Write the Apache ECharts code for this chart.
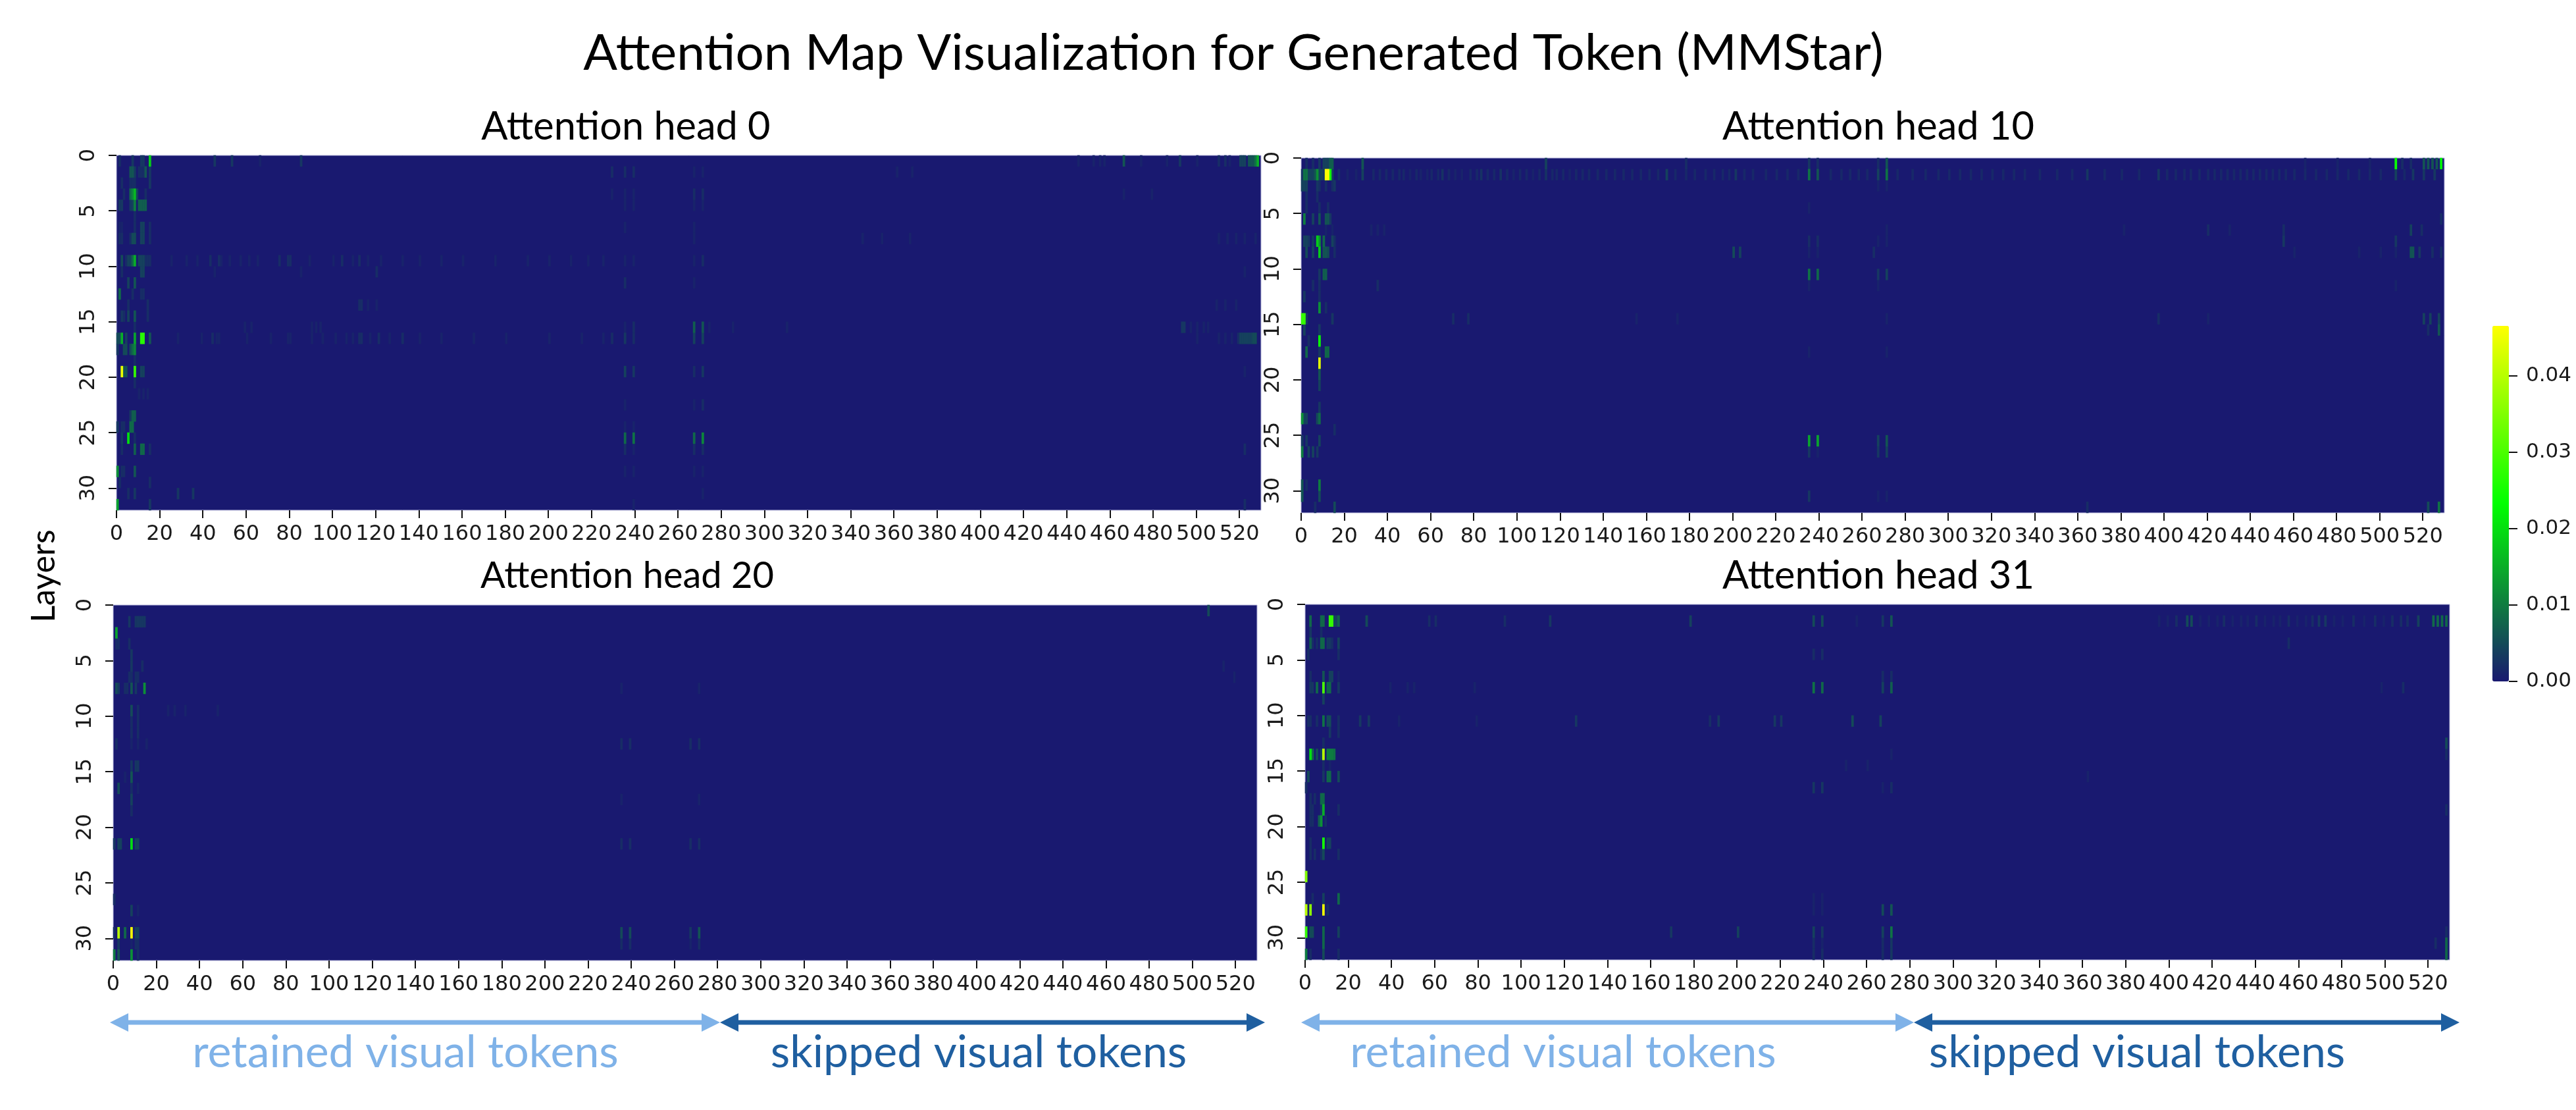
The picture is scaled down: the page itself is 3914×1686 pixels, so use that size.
<!DOCTYPE html>
<html>
<head>
<meta charset="utf-8" />
<title>Attention Map Visualization for Generated Token (MMStar)</title>
<style>
  html, body { margin: 0; padding: 0; background: #fff; }
  #chart { width: 3914px; height: 1686px; }
</style>
<script src="https://cdn.jsdelivr.net/npm/echarts@6/dist/echarts.min.js"></script>
</head>
<body>
<div id="chart"></div>
<script>
const chartTitle = "Attention Map Visualization for Generated Token (MMStar)";
const headTitles = ["Attention head 0", "Attention head 10", "Attention head 20", "Attention head 31"];
const tokenCount = 530;
const layerCount = 32;
const xTicks = [0, 20, 40, 60, 80, 100, 120, 140, 160, 180, 200, 220, 240, 260, 280, 300, 320, 340, 360, 380, 400, 420, 440, 460, 480, 500, 520];
const yTicks = [0, 5, 10, 15, 20, 25, 30];
const colorbarTicks = [0, 0.01, 0.02, 0.03, 0.04];
const colorMax = 0.0465;

// cells: [token, layer, value]. anything not listed is ~0
const head0 = [
  [1,0,.002],[7,0,.003],[11,0,.003],[12,0,.003],[15,0,.018],[45,0,.003],[53,0,.003],[66,0,.001],[85,0,.003],[445,0,.001],[452,0,.001],[455,0,.001],[457,0,.001],[466,0,.006],[474,0,.001],[486,0,.001],[492,0,.003],[500,0,.001],[510,0,.002],[513,0,.002],[515,0,.001],[520,0,.004],[521,0,.004],[522,0,.004],[524,0,.006],[525,0,.006],[526,0,.006],[527,0,.009],[528,0,.015],
  [6,1,.006],[7,1,.006],[8,1,.003],[10,1,.002],[11,1,.002],[12,1,.002],[13,1,.006],[15,1,.003],[229,1,.002],[235,1,.002],[239,1,.002],[267,1,.001],[271,1,.001],[361,1,.001],[368,1,.001],
  [2,2,.002],[6,2,.002],[7,2,.002],[8,2,.002],[15,2,.003],
  [3,3,.002],[6,3,.008],[7,3,.011],[8,3,.016],[9,3,.004],[13,3,.002],[229,3,.001],[235,3,.001],[239,3,.001],[267,3,.002],[271,3,.002],[466,3,.001],[479,3,.001],
  [1,4,.003],[2,4,.003],[6,4,.003],[7,4,.004],[8,4,.01],[10,4,.007],[11,4,.007],[12,4,.007],[13,4,.007],[235,4,.001],[239,4,.001],[267,4,.001],[271,4,.001],
  [8,5,.002],[1,6,.001],[2,6,.001],[8,6,.002],[11,6,.004],[12,6,.004],[15,6,.002],[235,6,.001],[267,6,.001],
  [1,7,.002],[2,7,.002],[6,7,.002],[7,7,.005],[8,7,.005],[11,7,.004],[12,7,.004],[15,7,.002],[267,7,.001],[345,7,.001],[354,7,.001],[367,7,.001],[510,7,.001],[514,7,.001],[518,7,.001],[522,7,.001],[527,7,.001],
  [2,9,.005],[4,9,.002],[5,9,.004],[6,9,.004],[7,9,.008],[8,9,.015],[10,9,.004],[11,9,.004],[12,9,.004],[13,9,.002],[14,9,.002],[15,9,.002],[25,9,.001],[32,9,.001],[37,9,.001],[43,9,.002],[47,9,.002],[48,9,.001],[52,9,.001],[57,9,.001],[61,9,.001],[65,9,.001],[75,9,.002],[79,9,.002],[80,9,.002],[89,9,.001],[100,9,.001],[104,9,.002],[109,9,.001],[112,9,.002],[116,9,.001],[122,9,.001],[132,9,.001],[140,9,.001],[150,9,.001],[160,9,.001],[175,9,.001],[190,9,.001],[200,9,.001],[210,9,.001],[218,9,.001],[225,9,.001],[235,9,.001],[239,9,.001],[267,9,.001],[271,9,.002],
  [2,10,.002],[11,10,.004],[12,10,.004],[45,10,.001],[85,10,.001],[120,10,.002],[522,10,.001],
  [5,11,.004],[8,11,.006],[235,11,.002],[267,11,.001],
  [1,12,.008],[7,12,.002],[11,12,.002],[12,12,.002],
  [5,13,.002],[14,13,.002],[112,13,.002],[113,13,.002],[116,13,.001],[120,13,.001],[509,13,.001],[513,13,.001],[518,13,.001],
  [2,14,.003],[3,14,.002],[5,14,.004],[8,14,.006],[14,14,.002],
  [8,15,.002],[59,15,.001],[62,15,.001],[90,15,.001],[92,15,.001],[94,15,.001],[235,15,.001],[239,15,.002],[267,15,.007],[271,15,.006],[274,15,.001],[285,15,.001],[310,15,.001],[493,15,.003],[494,15,.003],[497,15,.001],[500,15,.001],[503,15,.001],[505,15,.001],
  [0,16,.005],[1,16,.005],[2,16,.015],[4,16,.004],[8,16,.014],[11,16,.027],[12,16,.027],[15,16,.006],[28,16,.001],[39,16,.001],[44,16,.002],[46,16,.001],[47,16,.001],[60,16,.001],[71,16,.001],[79,16,.001],[80,16,.001],[90,16,.001],[95,16,.001],[101,16,.001],[106,16,.001],[109,16,.001],[112,16,.002],[113,16,.002],[117,16,.001],[121,16,.002],[126,16,.001],[132,16,.002],[140,16,.001],[150,16,.001],[165,16,.001],[180,16,.001],[200,16,.001],[215,16,.001],[225,16,.001],[229,16,.002],[235,16,.003],[239,16,.002],[267,16,.004],[271,16,.004],[500,16,.001],[510,16,.001],[513,16,.001],[516,16,.001],[519,16,.002],[520,16,.004],[521,16,.004],[522,16,.004],[523,16,.004],[524,16,.004],[525,16,.004],[526,16,.005],[527,16,.005],
  [0,17,.003],[3,17,.005],[4,17,.005],[6,17,.005],[7,17,.008],[8,17,.011],
  [8,18,.002],
  [2,19,.0445],[3,19,.006],[4,19,.006],[8,19,.028],[11,19,.004],[12,19,.004],[235,19,.004],[239,19,.003],[267,19,.002],[271,19,.003],[522,19,.001],
  [8,20,.002],[10,21,.001],[12,21,.001],[14,21,.001],
  [235,22,.001],[267,22,.001],[271,22,.002],
  [6,23,.003],[7,23,.007],[8,23,.007],
  [0,24,.003],[2,24,.002],[3,24,.002],[6,24,.008],[7,24,.008],[235,24,.001],[239,24,.001],
  [2,25,.003],[5,25,.02],[8,25,.002],[235,25,.008],[239,25,.009],[267,25,.008],[271,25,.011],
  [2,26,.002],[8,26,.007],[11,26,.008],[12,26,.008],[15,26,.002],[235,26,.002],[239,26,.001],[267,26,.002],[271,26,.002],[522,26,.002],
  [0,28,.012],[2,28,.002],[3,28,.002],[8,28,.006],[235,28,.001],[239,28,.001],[267,28,.001],[271,28,.001],
  [1,29,.002],[15,29,.002],
  [5,30,.002],[8,30,.003],[28,30,.003],[35,30,.003],[271,30,.001],
  [0,31,.014],[15,31,.003],[239,31,.001],[522,31,.002]
];
const head10 = [
  [2,0,.002],[5,0,.002],[8,0,.003],[10,0,.004],[11,0,.004],[12,0,.004],[13,0,.007],[14,0,.007],[28,0,.006],[113,0,.004],[178,0,.002],[235,0,.003],[239,0,.002],[267,0,.002],[271,0,.006],[465,0,.001],[480,0,.001],[495,0,.001],[507,0,.024],[510,0,.002],[514,0,.002],[520,0,.006],[522,0,.006],[524,0,.006],[526,0,.006],[528,0,.022],
  [0,1,.003],[1,1,.009],[2,1,.009],[3,1,.004],[4,1,.004],[5,1,.004],[6,1,.006],[7,1,.012],[8,1,.004],[9,1,.004],[10,1,.003],[11,1,.0465],[12,1,.0465],[13,1,.025],[14,1,.004],[17,1,.002],[21,1,.001],[25,1,.001],[28,1,.004],[33,1,.0015],[36,1,.0015],[39,1,.0015],[42,1,.0015],[45,1,.0015],[47,1,.0015],[50,1,.001],[53,1,.0015],[55,1,.001],[58,1,.001],[60,1,.0015],[63,1,.0015],[65,1,.0025],[68,1,.0015],[71,1,.001],[74,1,.001],[78,1,.0015],[81,1,.0015],[83,1,.0025],[86,1,.0015],[89,1,.0015],[92,1,.0025],[95,1,.0015],[98,1,.001],[101,1,.0015],[104,1,.0015],[107,1,.001],[110,1,.0015],[113,1,.0025],[116,1,.0015],[118,1,.0015],[121,1,.0015],[124,1,.001],[127,1,.0015],[130,1,.0015],[133,1,.0015],[137,1,.0015],[141,1,.0015],[145,1,.0015],[149,1,.0015],[153,1,.0015],[157,1,.0015],[161,1,.0015],[165,1,.0015],[169,1,.004],[173,1,.0015],[178,1,.0015],[182,1,.0015],[187,1,.0015],[191,1,.0015],[195,1,.0015],[198,1,.0015],[201,1,.003],[205,1,.0015],[209,1,.0015],[215,1,.0015],[220,1,.0015],[225,1,.0015],[230,1,.0015],[235,1,.009],[239,1,.006],[245,1,.0015],[250,1,.0015],[254,1,.0015],[258,1,.0015],[262,1,.0015],[267,1,.004],[271,1,.009],[276,1,.0015],[283,1,.0015],[289,1,.0015],[295,1,.0015],[300,1,.0015],[305,1,.0015],[310,1,.0015],[315,1,.0015],[320,1,.0015],[325,1,.0015],[330,1,.0015],[335,1,.0015],[342,1,.0015],[350,1,.0015],[357,1,.0015],[364,1,.003],[372,1,.0015],[380,1,.0015],[388,1,.0015],[397,1,.003],[401,1,.0015],[405,1,.0015],[409,1,.0015],[412,1,.0015],[416,1,.0015],[420,1,.0015],[423,1,.0015],[426,1,.0015],[429,1,.0015],[432,1,.0015],[435,1,.0015],[438,1,.0015],[441,1,.0015],[444,1,.0015],[447,1,.0015],[450,1,.0015],[453,1,.0015],[456,1,.0015],[460,1,.0015],[465,1,.0015],[470,1,.0015],[475,1,.0015],[480,1,.0015],[485,1,.0015],[490,1,.0015],[495,1,.0015],[500,1,.0015],[507,1,.004],[511,1,.0015],[515,1,.003],[520,1,.003],[525,1,.003],
  [0,2,.004],[1,2,.004],[2,2,.004],[7,2,.003],[8,2,.002],[11,2,.002],[14,2,.002],[15,2,.003],[267,2,.001],[271,2,.001],
  [2,3,.002],[7,3,.002],[2,4,.002],[8,4,.002],[12,4,.002],[235,4,.001],
  [1,5,.01],[5,5,.004],[8,5,.006],[11,5,.006],[12,5,.006],[13,5,.003],[528,5,.002],
  [11,6,.001],[14,6,.001],[32,6,.001],[35,6,.001],[38,6,.001],[271,6,.001],[381,6,.001],[420,6,.002],[430,6,.001],[455,6,.002],[514,6,.004],[519,6,.002],
  [1,7,.004],[2,7,.004],[3,7,.003],[5,7,.003],[7,7,.018],[8,7,.012],[10,7,.008],[14,7,.004],[15,7,.002],[235,7,.002],[239,7,.002],[267,7,.001],[271,7,.001],[455,7,.003],[507,7,.003],
  [2,8,.005],[5,8,.004],[8,8,.018],[10,8,.006],[11,8,.006],[12,8,.005],[15,8,.002],[200,8,.005],[203,8,.004],[235,8,.001],[239,8,.001],[265,8,.002],[460,8,.001],[490,8,.001],[500,8,.001],[507,8,.001],[514,8,.006],[515,8,.006],[518,8,.003],[524,8,.002],[528,8,.002],
  [8,10,.003],[10,10,.007],[11,10,.007],[235,10,.009],[239,10,.008],[267,10,.003],[271,10,.004],
  [5,11,.002],[8,11,.002],[35,11,.002],[235,11,.001],[267,11,.001],[507,11,.001],
  [1,12,.003],[8,12,.002],
  [8,13,.012],[11,13,.002],
  [0,14,.028],[1,14,.028],[2,14,.003],[14,14,.003],[70,14,.002],[77,14,.002],[155,14,.001],[174,14,.001],[271,14,.001],[397,14,.002],[420,14,.001],[520,14,.004],[523,14,.004],[527,14,.004],
  [1,15,.004],[8,15,.003],[522,15,.002],[527,15,.006],
  [3,16,.002],[8,16,.024],
  [2,17,.008],[8,17,.003],[11,17,.008],[12,17,.008],[235,17,.001],[271,17,.001],
  [8,18,.044],[8,19,.006],[8,20,.004],[8,22,.003],
  [0,23,.012],[1,23,.004],[2,23,.004],[7,23,.005],[8,23,.008],[15,24,.002],
  [0,25,.003],[2,25,.003],[8,25,.004],[235,25,.014],[239,25,.014],[267,25,.004],[271,25,.006],
  [0,26,.01],[3,26,.004],[5,26,.004],[7,26,.003],[235,26,.003],[239,26,.001],[267,26,.003],[271,26,.004],
  [0,29,.006],[2,29,.002],[8,29,.01],
  [0,30,.006],[8,30,.005],[235,30,.003],[267,30,.001],[271,30,.001],
  [6,31,.002],[15,31,.005],[364,31,.002],[522,31,.005],[527,31,.009]
];
const head20 = [
  [507,0,.005],
  [7,1,.003],[10,1,.003],[11,1,.003],[12,1,.003],[13,1,.003],[14,1,.003],
  [1,2,.014],[1,3,.002],[2,3,.002],[7,3,.002],
  [8,4,.003],
  [8,5,.003],[13,5,.002],[514,5,.001],
  [7,6,.002],[8,6,.002],[10,6,.002],[11,6,.002],[519,6,.001],
  [1,7,.005],[2,7,.003],[5,7,.002],[6,7,.002],[8,7,.006],[10,7,.003],[14,7,.012],[235,7,.001],[271,7,.001],
  [8,9,.005],[11,9,.002],[25,9,.001],[28,9,.001],[33,9,.001],[48,9,.001],
  [8,10,.002],[11,10,.002],[8,11,.002],[11,11,.002],
  [1,12,.002],[8,12,.001],[11,12,.001],[15,12,.001],[235,12,.002],[239,12,.002],[267,12,.002],[271,12,.002],
  [8,14,.003],[10,14,.003],[11,14,.003],[5,15,.001],[8,15,.006],
  [2,16,.005],[8,16,.002],[11,16,.001],[8,17,.004],[235,17,.001],[271,17,.001],[8,18,.002],
  [0,21,.003],[2,21,.004],[3,21,.004],[8,21,.02],[10,21,.004],[11,21,.004],[235,21,.002],[239,21,.002],[267,21,.002],[271,21,.002],
  [0,26,.002],
  [8,27,.004],[11,27,.001],
  [0,29,.002],[2,29,.04],[5,29,.008],[8,29,.046],[10,29,.004],[11,29,.004],[235,29,.005],[239,29,.005],[267,29,.003],[271,29,.006],
  [2,30,.003],[8,30,.001],[10,30,.002],[11,30,.002],[235,30,.002],[239,30,.002],[267,30,.001],[271,30,.002],
  [0,31,.01],[2,31,.006],[8,31,.012],[11,31,.002]
];
const head31 = [
  [2,1,.008],[7,1,.008],[8,1,.008],[11,1,.028],[12,1,.028],[13,1,.004],[14,1,.004],[15,1,.007],[28,1,.005],[57,1,.002],[60,1,.002],[92,1,.002],[113,1,.003],[178,1,.004],[235,1,.005],[239,1,.005],[255,1,.001],[267,1,.003],[271,1,.006],[395,1,.001],[399,1,.001],[403,1,.002],[408,1,.005],[410,1,.005],[414,1,.001],[418,1,.001],[422,1,.001],[425,1,.002],[429,1,.001],[433,1,.001],[436,1,.001],[440,1,.002],[444,1,.001],[448,1,.001],[451,1,.001],[455,1,.002],[459,1,.001],[463,1,.001],[466,1,.002],[469,1,.003],[472,1,.003],[476,1,.001],[480,1,.001],[485,1,.002],[490,1,.001],[495,1,.002],[499,1,.001],[503,1,.002],[507,1,.002],[510,1,.002],[515,1,.004],[522,1,.008],[524,1,.008],[526,1,.008],[528,1,.008],
  [2,2,.003],[7,2,.002],
  [2,3,.007],[3,3,.002],[5,3,.002],[7,3,.008],[8,3,.008],[10,3,.003],[11,3,.003],[12,3,.002],[15,3,.004],[455,3,.002],
  [1,4,.002],[15,4,.002],[235,4,.002],[239,4,.002],
  [2,6,.002],[8,6,.006],[11,6,.004],[12,6,.004],[15,6,.001],[267,6,.002],[271,6,.002],
  [2,7,.003],[3,7,.003],[5,7,.008],[8,7,.03],[10,7,.008],[11,7,.008],[15,7,.003],[39,7,.001],[47,7,.001],[50,7,.001],[78,7,.001],[235,7,.009],[239,7,.008],[267,7,.004],[271,7,.007],[498,7,.001],[508,7,.002],
  [8,8,.004],
  [1,10,.002],[2,10,.002],[5,10,.002],[8,10,.009],[10,10,.005],[11,10,.005],[15,10,.002],[25,10,.003],[29,10,.003],[43,10,.001],[79,10,.001],[125,10,.003],[187,10,.002],[191,10,.003],[217,10,.003],[220,10,.003],[253,10,.005],[266,10,.004],
  [11,11,.003],[15,11,.002],
  [8,12,.002],[528,12,.005],
  [2,13,.02],[3,13,.008],[5,13,.005],[7,13,.004],[8,13,.04],[10,13,.01],[11,13,.01],[12,13,.01],[13,13,.009],[271,13,.001],[528,13,.002],
  [8,14,.002],[11,14,.001],[250,14,.001],[260,14,.001],
  [1,15,.005],[8,15,.003],[10,15,.008],[11,15,.008],[15,15,.005],[362,15,.001],
  [0,16,.002],[235,16,.003],[239,16,.003],[267,16,.001],[271,16,.002],
  [2,17,.002],[4,17,.002],[7,17,.008],[8,17,.008],
  [2,18,.002],[3,18,.002],[7,18,.003],[8,18,.015],[15,18,.002],[528,18,.002],
  [2,19,.002],[3,19,.002],[6,19,.007],[7,19,.012],[9,19,.002],
  [2,21,.002],[8,21,.025],[10,21,.004],[11,21,.004],
  [2,22,.002],[4,22,.002],[7,22,.002],[8,22,.005],[15,22,.002],
  [0,24,.035],
  [3,26,.002],[8,26,.004],[15,26,.008],[235,26,.001],[239,26,.001],
  [0,27,.04],[2,27,.036],[8,27,.045],[10,27,.002],[235,27,.001],[239,27,.001],[267,27,.005],[271,27,.006],
  [0,29,.028],[2,29,.005],[3,29,.005],[8,29,.008],[15,29,.004],[169,29,.003],[200,29,.004],[235,29,.004],[239,29,.003],[267,29,.004],[271,29,.009],[528,29,.002],
  [8,30,.008],[235,30,.002],[239,30,.001],[267,30,.002],[271,30,.003],[523,30,.002],[528,30,.008],
  [0,31,.01],[2,31,.002],[8,31,.005],[15,31,.002],[235,31,.002],[239,31,.002],[267,31,.002],[271,31,.003],[528,31,.008]
];
const headCells = [head0, head10, head20, head31];

// panel boxes in page pixels
const panels = [
  { left: 177, top: 236, width: 1739, height: 539 },
  { left: 1977, top: 240, width: 1737, height: 539 },
  { left: 172, top: 919, width: 1738, height: 540 },
  { left: 1983, top: 918, width: 1739, height: 540 },
];
const colorbar = { left: 3787, top: 495, width: 25, height: 540 };

// head 0 and the right hand titles are a bit larger in the source
const headTitleLayout = [
  { center: 946, top: 158, size: 59.5 },
  { center: 2849, top: 158, size: 59.5 },
  { center: 948, top: 842, size: 56 },
  { center: 2849, top: 840, size: 59.5 },
];

const tokenLabels = Array.from({ length: tokenCount }, (_, i) => String(i));
const layerLabels = Array.from({ length: layerCount }, (_, i) => String(i));

const tickFont = { fontFamily: "DejaVu Sans", fontSize: 32, color: "#1a1a1a" };
const titleFont = "Lato";

const grid = [];
const xAxis = [];
const yAxis = [];
const series = [];

panels.forEach((box, i) => {
  grid.push({
    ...box,
    show: true,
    backgroundColor: "#191970",
    borderColor: "#b9b9dc",
    borderWidth: 1,
  });
  // band axes carry the cells, value axes below only carry ticks and labels
  xAxis.push({ gridIndex: i, type: "category", data: tokenLabels, show: false });
  xAxis.push({
    gridIndex: i,
    type: "value",
    position: "bottom",
    min: 0,
    max: tokenCount,
    splitLine: { show: false },
    axisLine: { show: false, onZero: false },
    axisTick: { show: true, length: 12, customValues: xTicks, lineStyle: { color: "#111", width: 2 } },
    axisLabel: { customValues: xTicks, margin: 21, hideOverlap: false, ...tickFont },
  });
  yAxis.push({ gridIndex: i, type: "category", data: layerLabels, inverse: true, show: false });
  yAxis.push({
    gridIndex: i,
    type: "value",
    position: "left",
    inverse: true,
    min: 0,
    max: layerCount,
    splitLine: { show: false },
    axisLine: { show: false, onZero: false },
    axisTick: { show: true, length: 12, customValues: yTicks, lineStyle: { color: "#111", width: 2 } },
    axisLabel: { customValues: yTicks, margin: 26, rotate: 90, ...tickFont },
  });
  series.push({
    type: "heatmap",
    xAxisIndex: i * 2,
    yAxisIndex: i * 2,
    progressive: 0,
    // brightest last so the rounded up cell widths don't hide them
    data: headCells[i].slice().sort((a, b) => a[2] - b[2]),
    emphasis: { disabled: true },
  });
});

// colorbar ticks
grid.push({ ...colorbar });
xAxis.push({ gridIndex: 4, type: "category", data: [""], show: false });
yAxis.push({
  gridIndex: 4,
  type: "value",
  position: "right",
  min: 0,
  max: colorMax,
  splitLine: { show: false },
  axisLine: { show: false },
  axisTick: { show: true, length: 13, customValues: colorbarTicks, lineStyle: { color: "#111", width: 2 } },
  axisLabel: {
    customValues: colorbarTicks,
    margin: 26,
    formatter: (v) => v.toFixed(2),
    ...tickFont,
    fontSize: 31,
  },
});

const lightBlue = "#7fb2e8";
const darkBlue = "#1f5fa0";
const arrowY = 1553;

// double headed arrow as one polygon
const arrow = (x0, x1, color) => ({
  type: "polygon",
  silent: true,
  shape: {
    points: [
      [x0, arrowY],
      [x0 + 28, arrowY - 14],
      [x0 + 28, arrowY - 3.5],
      [x1 - 28, arrowY - 3.5],
      [x1 - 28, arrowY - 14],
      [x1, arrowY],
      [x1 - 28, arrowY + 14],
      [x1 - 28, arrowY + 3.5],
      [x0 + 28, arrowY + 3.5],
      [x0 + 28, arrowY + 14],
    ],
  },
  style: { fill: color },
});

const tokenText = (x, text, color) => ({
  type: "text",
  silent: true,
  x,
  y: 1599,
  style: { text, fill: color, font: `68px ${titleFont}`, textAlign: "center", textVerticalAlign: "middle" },
});

const option = {
  backgroundColor: "#fff",
  animation: false,
  title: [
    {
      text: chartTitle,
      left: 1869,
      top: 38,
      textAlign: "center",
      textStyle: { fontFamily: titleFont, fontSize: 76.5, fontWeight: "normal", color: "#000" },
    },
    ...headTitles.map((text, i) => ({
      text,
      left: headTitleLayout[i].center,
      top: headTitleLayout[i].top,
      textAlign: "center",
      textStyle: { fontFamily: titleFont, fontSize: headTitleLayout[i].size, fontWeight: "normal", color: "#000" },
    })),
  ],
  visualMap: {
    type: "continuous",
    min: 0,
    max: colorMax,
    dimension: 2,
    seriesIndex: [0, 1, 2, 3],
    left: colorbar.left,
    top: colorbar.top,
    itemWidth: colorbar.width,
    itemHeight: colorbar.height,
    padding: 0,
    calculable: false,
    hoverLink: false,
    text: null,
    inRange: { color: ["#191970", "#00ff00", "#ffff00"] },
  },
  grid,
  xAxis,
  yAxis,
  series,
  graphic: [
    arrow(167, 1094, lightBlue),
    arrow(1094, 1922, darkBlue),
    arrow(1977, 2908, lightBlue),
    arrow(2908, 3737, darkBlue),
    tokenText(616, "retained visual tokens", lightBlue),
    tokenText(1487, "skipped visual tokens", darkBlue),
    tokenText(2375, "retained visual tokens", lightBlue),
    tokenText(3247, "skipped visual tokens", darkBlue),
    {
      type: "text",
      silent: true,
      x: 67,
      y: 875,
      rotation: Math.PI / 2,
      style: { text: "Layers", fill: "#000", font: `50px ${titleFont}`, textAlign: "center", textVerticalAlign: "middle" },
    },
  ],
};

const chart = echarts.init(document.getElementById("chart"), null, { renderer: "canvas" });
chart.setOption(option);
</script>
</body>
</html>
